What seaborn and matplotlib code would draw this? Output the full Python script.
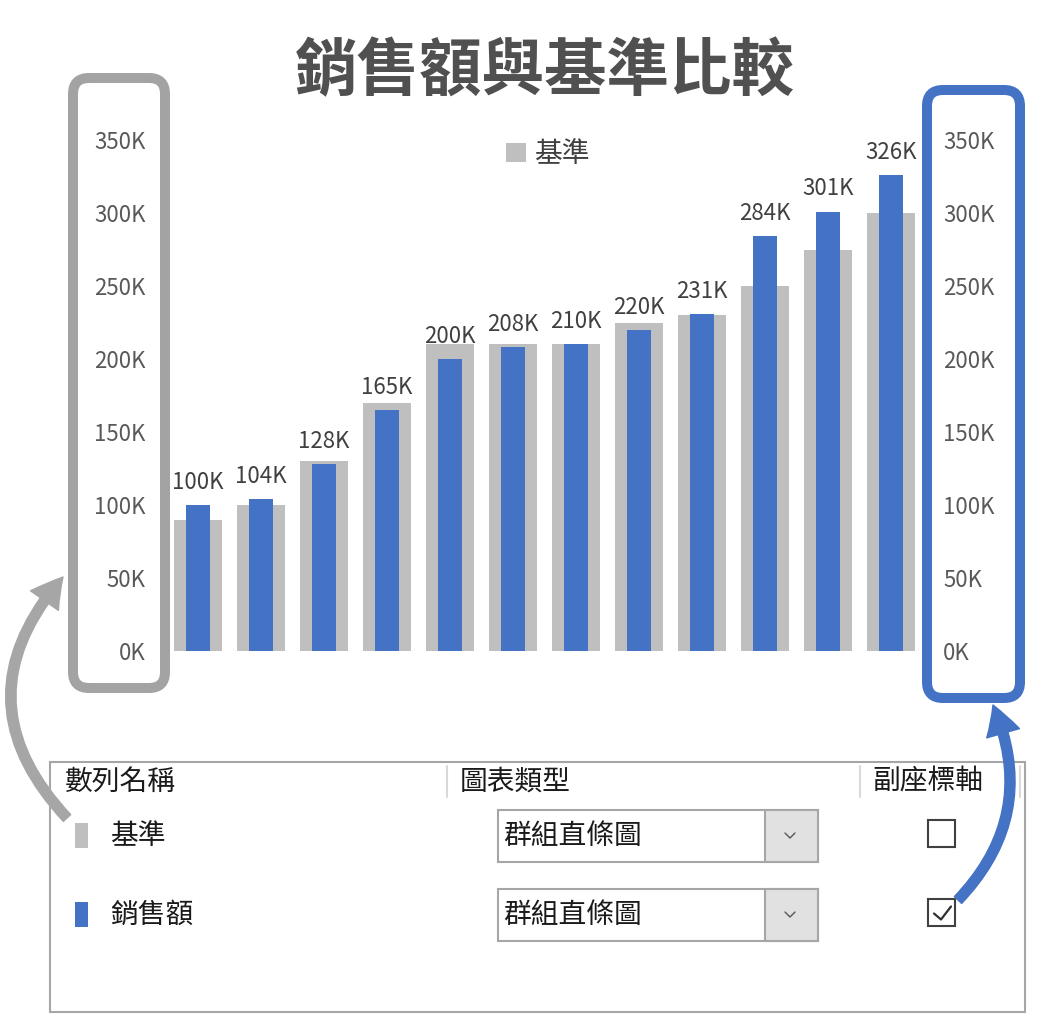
import matplotlib
matplotlib.use("Agg")
import matplotlib.pyplot as plt
from matplotlib.patches import FancyBboxPatch, Rectangle, FancyArrowPatch
from matplotlib.lines import Line2D
from matplotlib.transforms import IdentityTransform
import seaborn as sns

# data (values in thousands)
periods = [str(i) for i in range(1, 13)]
baseline = [90, 100, 130, 170, 210, 210, 210, 225, 230, 250, 275, 300]
sales = [100, 104, 128, 165, 200, 208, 210, 220, 231, 284, 301, 326]
y_ticks = [0, 50, 100, 150, 200, 250, 300, 350]
tick_labels = [f"{t}K" for t in y_ticks]
sales_labels = [f"{v}K" for v in sales]

title = "銷售額與基準比較"
series_names = ["基準", "銷售額"]
chart_type = "群組直條圖"
table_headers = ["數列名稱", "圖表類型", "副座標軸"]
secondary_axis = [False, True]

GRAY = "#bfbfbf"
BLUE = "#4472c4"
W, H = 1041, 1024

sns.set_theme(style="white")
plt.rcParams["font.family"] = ["Noto Sans CJK TC", "DejaVu Sans"]

fig = plt.figure(figsize=(W / 100, H / 100), dpi=100)
fig.patch.set_facecolor("white")
px = IdentityTransform()


def fx(x):
    return x / W


def fy(y):
    return 1 - y / H


# main chart: baseline on primary axis, sales on secondary axis
ax = fig.add_axes([fx(166.5), fy(651), (922.5 - 166.5) / W, (651 - 140) / H])
sns.barplot(x=periods, y=baseline, ax=ax, color=GRAY, saturation=1,
            width=0.75, linewidth=0, label=series_names[0])
ax2 = ax.twinx()
sns.barplot(x=periods, y=sales, ax=ax2, color=BLUE, saturation=1,
            width=0.37, linewidth=0)

for a in (ax, ax2):
    a.set_ylim(0, 350)
    a.set_yticks(y_ticks)
    a.set_yticklabels(tick_labels)
    a.set_xlim(-0.5, len(periods) - 0.5)
    a.set_xticks([])
    a.set_xlabel("")
    a.set_ylabel("")
    for s in a.spines.values():
        s.set_visible(False)
    a.tick_params(axis="y", length=0, labelsize=16, labelcolor="#595959", pad=15)
ax.set_facecolor("none")

ax2.bar_label(ax2.containers[0], labels=sales_labels, padding=8,
              fontsize=16, color="#404040")

ax.legend(loc="center", bbox_to_anchor=(fx(548), fy(154)),
          bbox_transform=fig.transFigure, frameon=False, fontsize=20,
          handlelength=0.7, handleheight=0.7, handletextpad=0.3,
          labelcolor="#404040")

fig.text(fx(545), fy(72), title, ha="center", va="center", fontsize=45,
         fontweight="bold", color="#505050")


def rbox(x0, y0, x1, y1, color):
    p = FancyBboxPatch((x0, H - y1), x1 - x0, y1 - y0,
                       boxstyle="round,pad=0,rounding_size=16", transform=px,
                       fill=False, edgecolor=color, linewidth=7.2, zorder=4)
    fig.add_artist(p)


rbox(73, 78, 165, 688, "#a3a3a3")
rbox(927, 90, 1020, 698, BLUE)

# series settings table
fig.add_artist(Rectangle((50, H - 1012), 975, 250, transform=px, fill=False,
                         edgecolor="#a6a6a6", linewidth=1.5, zorder=2))
for xs in (447, 860, 1020):
    fig.add_artist(Line2D([xs, xs], [H - 766, H - 797], transform=px,
                          color="#d9d9d9", linewidth=1.5))
for hx, txt in zip((65, 460, 872), table_headers):
    fig.text(fx(hx), fy(782), txt, ha="left", va="center", fontsize=20,
             color="#1a1a1a")

row_y = [836, 915]
for name, color, yc, checked in zip(series_names, [GRAY, BLUE], row_y, secondary_axis):
    fig.add_artist(Rectangle((75, H - yc - 12), 13, 25, transform=px,
                             facecolor=color, edgecolor="none"))
    fig.text(fx(110), fy(yc), name, ha="left", va="center", fontsize=20,
             color="#1a1a1a")
    fig.add_artist(Rectangle((498, H - yc - 26), 320, 52, transform=px,
                             facecolor="white", edgecolor="#a6a6a6", linewidth=1.5))
    fig.add_artist(Rectangle((765, H - yc - 26), 53, 52, transform=px,
                             facecolor="#e1e1e1", edgecolor="#a6a6a6", linewidth=1.5))
    fig.add_artist(Line2D([785, 790, 795], [H - yc + 3, H - yc - 2, H - yc + 3],
                          transform=px, color="#555555", linewidth=1))
    fig.text(fx(503), fy(yc), chart_type, ha="left", va="center", fontsize=20,
             color="#1a1a1a")
    cy = yc - 2.5
    fig.add_artist(Rectangle((928, H - cy - 13.5), 27, 27, transform=px,
                             facecolor="white", edgecolor="#404040", linewidth=1.5))
    if checked:
        fig.add_artist(Line2D([934, 941, 951], [H - cy - 1, H - cy - 7, H - cy + 6],
                              transform=px, color="#303030", linewidth=1.6))

# arrows linking the table rows to their axes
arrow_style = "Simple,tail_width=0.72,head_width=2.45,head_length=2.16"
fig.add_artist(FancyArrowPatch((67, H - 818), (63, H - 577), transform=px,
                               connectionstyle="arc3,rad=-0.45", arrowstyle=arrow_style,
                               mutation_scale=10, color="#a6a6a6",
                               shrinkA=0, shrinkB=0, zorder=6))
fig.add_artist(FancyArrowPatch((958, H - 900), (993, H - 705), transform=px,
                               connectionstyle="arc3,rad=0.33", arrowstyle=arrow_style,
                               mutation_scale=10, color=BLUE,
                               shrinkA=0, shrinkB=0, zorder=6))

fig.savefig("out.png", dpi=100, facecolor="white")
